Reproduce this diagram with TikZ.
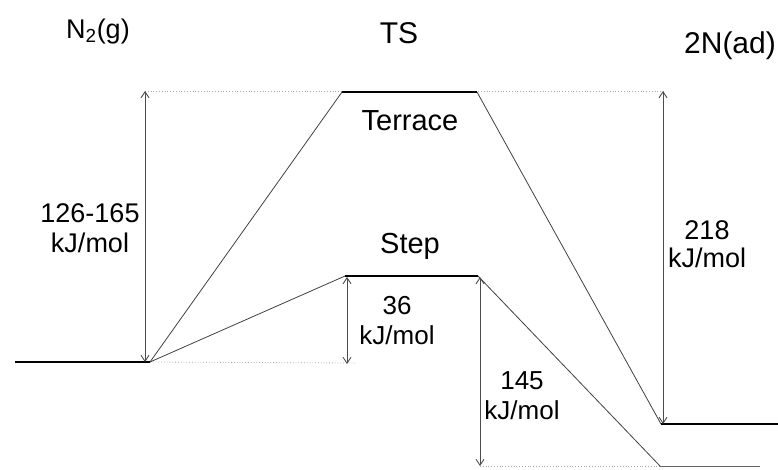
\documentclass[tikz,border=0pt]{standalone}
\usepackage{fontspec}
\setmainfont{Liberation Sans}
\usetikzlibrary{arrows.meta}
\begin{document}
\begin{tikzpicture}[x=1pt,y=-1pt,
  level/.style={line width=2.6pt, black},
  thinlevel/.style={line width=1pt, black!60},
  route/.style={line width=0.8pt, black!75},
  guide/.style={line width=0.8pt, black!35, dotted},
  meas/.style={line width=0.9pt, black!70, {Straight Barb[length=6pt,width=8pt]}-{Straight Barb[length=6pt,width=8pt]}},
  title/.style={font=\fontsize{30}{32}\selectfont, inner sep=0pt, anchor=base},
  lab/.style={font=\fontsize{27}{30}\selectfont, align=center, inner sep=0pt}]
\useasboundingbox (0,0) rectangle (778,469);
% level end points
\coordinate (n2l) at (15,362);
\coordinate (n2r) at (150,362);
\coordinate (tl) at (342,92);
\coordinate (tr) at (477,92);
\coordinate (sl) at (345,276);
\coordinate (sr) at (478,276);
\coordinate (al) at (661,424);
\coordinate (ar) at (778,424);
\coordinate (bl) at (660,466);
\coordinate (br) at (760,466);
% guide ends
\coordinate (gt1) at (145,91);
\coordinate (gt2) at (665,91);
\coordinate (gn) at (355,363);
\coordinate (gb) at (480,466);
\coordinate (m36t) at (347,277);
\coordinate (m36b) at (347,364);
\coordinate (m145t) at (480,277);
\coordinate (m145b) at (480,466);
\coordinate (m126t) at (145,91);
\coordinate (m126b) at (145,362);
\coordinate (m218t) at (663,91);
\coordinate (m218b) at (663,424);
% guides
\draw[guide] (gt1) -- (gt2);
\draw[guide] (n2r) -- (gn);
\draw[guide] (gb) -- (bl);
% routes
\draw[route] (n2r) -- (tl);
\draw[route] (n2r) -- (sl);
\draw[route] (tr) -- (al);
\draw[route] (sr) -- (bl);
% levels
\draw[level] (n2l) -- (n2r);
\draw[level] (tl) -- (tr);
\draw[level] (sl) -- (sr);
\draw[level] (al) -- (ar);
\draw[thinlevel] (bl) -- (br);
% measures
\draw[meas] (m126t) -- (m126b);
\draw[meas] (m36t) -- (m36b);
\draw[meas] (m145t) -- (m145b);
\draw[meas] (m218t) -- (m218b);
% labels
\node[title, font=\fontsize{27}{30}\selectfont] (ln2) at (98,38) {N\textsubscript{2}(g)};
\node[title] (lts) at (399,43) {TS};
\node[title] (l2n) at (730,53) {2N(ad)};
\node[title, font=\fontsize{29}{32}\selectfont] (lterr) at (410,130) {Terrace};
\node[title, font=\fontsize{29}{32}\selectfont] (lstep) at (410,253) {Step};
\node[lab] (l126) at (90,228) {126-165\\kJ/mol};
\node[lab, font=\fontsize{26}{30}\selectfont] (l36) at (397,321) {36\\kJ/mol};
\node[lab, font=\fontsize{26}{30}\selectfont] (l145) at (522,396) {145\\kJ/mol};
\node[lab, font=\fontsize{27}{28}\selectfont] (l218) at (707,244) {218\\kJ/mol};
\end{tikzpicture}
\end{document}
